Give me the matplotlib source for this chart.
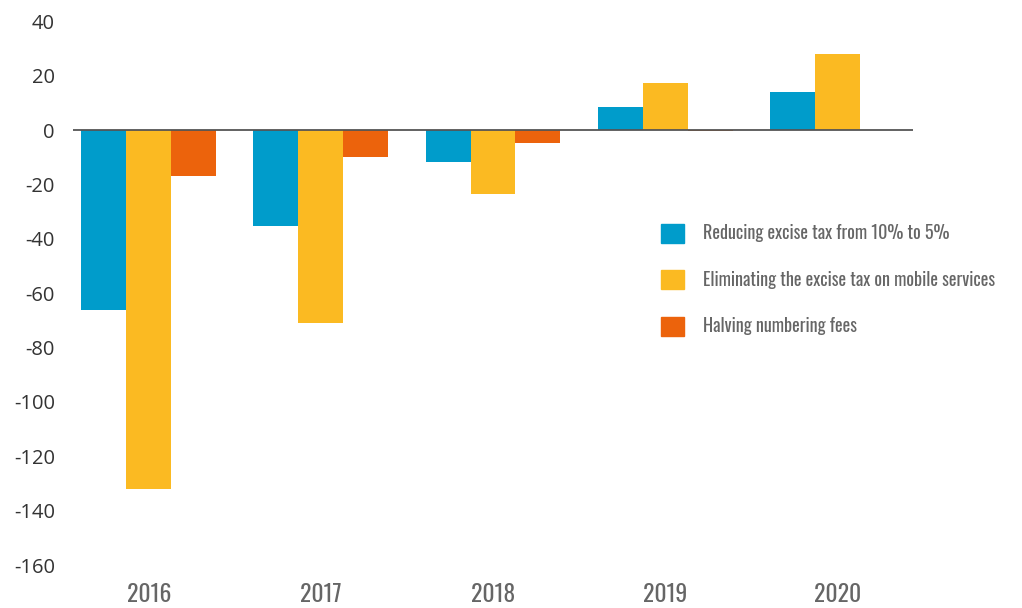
import numpy as np
import matplotlib
matplotlib.use("Agg")
import matplotlib.pyplot as plt
from matplotlib.patches import Patch

plt.rcParams["axes.unicode_minus"] = False

# Datos
years = ["2016", "2017", "2018", "2019", "2020"]
reduce_excise = [-66, -35.3, -11.7, 8.5, 14.0]
eliminate_excise = [-132.2, -70.8, -23.4, 17.3, 27.9]
halving_fees = [-16.8, -9.8, -4.7, -0.4, 0]

labels = ["Reducing excise tax from 10% to 5%",
          "Eliminating the excise tax on mobile services",
          "Halving numbering fees"]
colors = ["#009ccb", "#fbba22", "#ec630c"]

COND = ["Oswald", "Open Sans Condensed", "DejaVu Sans"]
NUM = ["Open Sans", "DejaVu Sans"]

fig = plt.figure(figsize=(10.22, 6.08), dpi=100)
ax = fig.add_axes([0.0714, 0.0707, 0.822, 0.894])

x = np.arange(len(years))
w = 0.261
for i, (vals, c) in enumerate(zip([reduce_excise, eliminate_excise, halving_fees], colors)):
    ax.bar(x + (i - 1) * w, vals, width=w, color=c, zorder=2)

ax.axhline(0, color="#555555", linewidth=1.3, zorder=3)

ax.set_ylim(-160, 40)
ax.set_xlim(-0.44, 4.44)
ax.set_yticks(np.arange(-160, 41, 20))
ax.set_xticks(x)
ax.set_xticklabels(years, fontfamily=COND, fontsize=17, color="#666666")
for t in ax.get_yticklabels():
    t.set_fontfamily(NUM)
    t.set_fontweight("normal")
    t.set_fontsize(14.5)
    t.set_color("#333333")
ax.tick_params(axis="y", length=0, pad=13)
ax.tick_params(axis="x", length=0, pad=13)
for s in ax.spines.values():
    s.set_visible(False)

handles = [Patch(color=c) for c in colors]
leg = ax.legend(handles, labels, loc="upper left",
                bbox_to_anchor=(0.647, 0.632), bbox_transform=fig.transFigure,
                frameon=False, prop={"family": COND, "size": 13},
                handlelength=1.25, handleheight=1.25, labelspacing=1.52,
                handletextpad=1.05, borderpad=0, borderaxespad=0)
for t in leg.get_texts():
    t.set_color("#666666")

fig.savefig("out.png", dpi=100)
